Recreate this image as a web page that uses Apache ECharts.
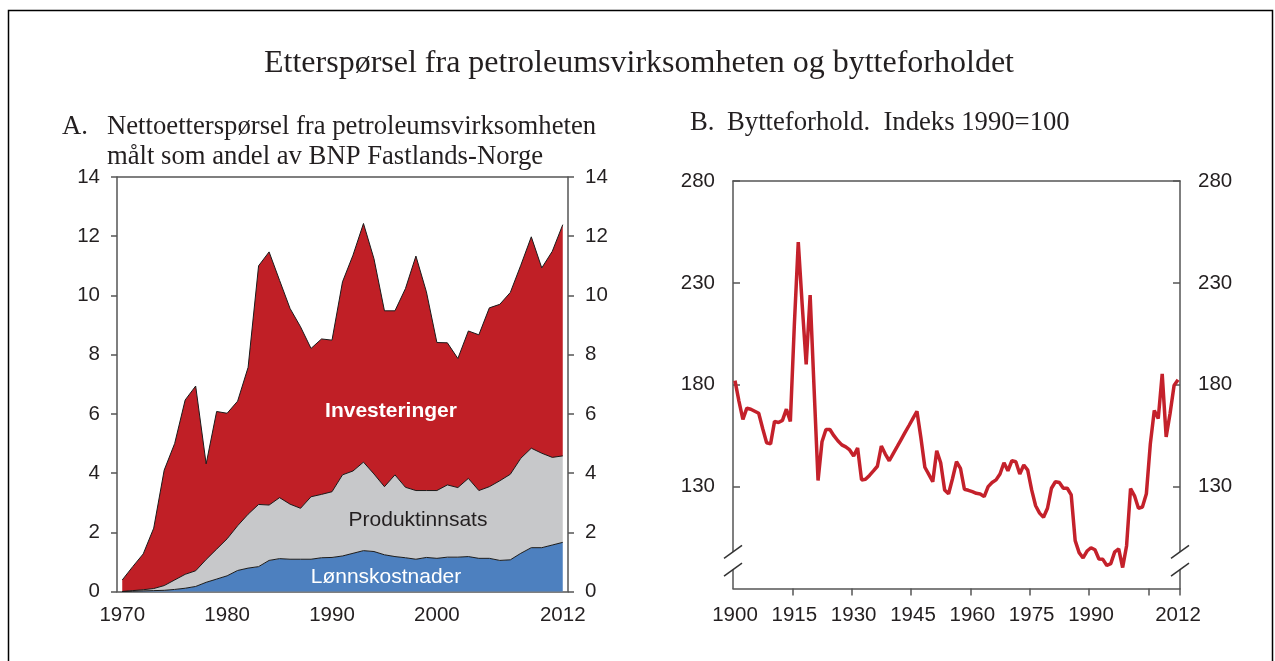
<!DOCTYPE html>
<html>
<head>
<meta charset="utf-8">
<script src="https://cdn.jsdelivr.net/npm/echarts@6/dist/echarts.min.js"></script>
<style>
  html, body { margin: 0; padding: 0; background: #fff; }
  #chart { width: 1275px; height: 661px; }
</style>
</head>
<body>
<div id="chart"></div>
<script>
// ---- data: panel A (share of mainland GDP, per cent), 1970-2012 ----
const yearsA = [];
for (let y = 1970; y <= 2012; y++) yearsA.push(String(y));

const lonnskostnader = [
  0.00, 0.01, 0.02, 0.03, 0.04, 0.07, 0.11, 0.17, 0.31, 0.42,
  0.53, 0.71, 0.79, 0.84, 1.05, 1.11, 1.09, 1.09, 1.09, 1.14,
  1.15, 1.20, 1.29, 1.38, 1.35, 1.24, 1.18, 1.14, 1.09, 1.15,
  1.12, 1.16, 1.16, 1.18, 1.12, 1.12, 1.05, 1.07, 1.29, 1.48,
  1.48, 1.57, 1.66
];
const produktinnsats = [
  0.00, 0.02, 0.04, 0.07, 0.16, 0.32, 0.47, 0.53, 0.77, 1.01,
  1.25, 1.51, 1.82, 2.10, 1.87, 2.06, 1.86, 1.72, 2.11, 2.14,
  2.22, 2.74, 2.78, 2.99, 2.62, 2.30, 2.76, 2.38, 2.32, 2.26,
  2.29, 2.44, 2.35, 2.64, 2.29, 2.42, 2.69, 2.89, 3.21, 3.36,
  3.19, 2.96, 2.92
];
const investeringer = [
  0.39, 0.81, 1.21, 2.04, 3.90, 4.61, 5.89, 6.24, 3.23, 4.65,
  4.24, 4.21, 4.96, 8.06, 8.55, 7.34, 6.61, 6.13, 5.01, 5.25,
  5.12, 6.52, 7.29, 8.06, 7.27, 5.94, 5.54, 6.71, 7.92, 6.71,
  5.00, 4.80, 4.36, 4.98, 5.26, 6.04, 5.96, 6.14, 6.52, 7.14,
  6.26, 6.96, 7.81
];
const labelYearsA = ['1970', '1980', '1990', '2000', '2012'];

// ---- data: panel B (terms of trade, index 1990=100), 1900-2012 ----
const yearsB = [];
for (let y = 1900; y <= 2012; y++) yearsB.push(String(y));

const bytteforhold = [
  182, 172, 163, 168.5, 168, 167, 166, 158.5, 151.5, 151,
  162, 161.5, 162.5, 168, 162, 209, 250, 219, 190, 224,
  178, 133, 152, 158, 158, 155, 152.5, 150.5, 149.5, 148,
  145, 149, 133.3, 133.6, 135.5, 137.7, 140, 149.9, 146, 142.7,
  146.2, 149.6, 153.1, 156.6, 160, 163.5, 167, 154, 139.5, 136,
  132.4, 147.6, 141.7, 128.4, 126.5, 134, 142.2, 139, 128.7, 128.2,
  127.5, 126.7, 126.4, 125.1, 130, 132, 133.3, 136.2, 141.7, 137.8,
  142.7, 142.2, 136.2, 140.6, 138.1, 128.4, 120.6, 117, 115, 119.4,
  129.2, 132.4, 132, 129.2, 129.2, 125.9, 103.5, 97.6, 95, 98.4,
  100, 99, 94.5, 94.3, 91.3, 92.2, 98, 99.4, 90.3, 101,
  129, 125.5, 119.4, 120, 126.5, 151, 167.4, 163.4, 185.3, 154.4,
  166, 179.6, 182.4
];
const labelYearsB = ['1900', '1915', '1930', '1945', '1960', '1975', '1990', '2012'];
const tickYearsB = ['1915', '1930', '1945', '1960', '1975', '1990', '2005'];
const ticksB = [130, 180, 230, 280];

// ---- layout ----
const gridA = { left: 117, top: 177, width: 451, height: 414.5 };
const gridB = { left: 733, top: 181, width: 447, height: 407.5 };
const breakValues = [98, 89.3];

const sans = '"Liberation Sans", Arial, sans-serif';
const serif = '"Liberation Serif", "Times New Roman", serif';
const axisColor = '#555';
const textColor = '#231f20';

const chart = echarts.init(document.getElementById('chart'));

const axisLine = { show: true, onZero: false, lineStyle: { color: axisColor, width: 1.5 } };
const tickFont = { fontFamily: sans, fontSize: 20.5, color: textColor };

function areaSeries(name, data, color) {
  return {
    name: name,
    type: 'line',
    stack: 'total',
    xAxisIndex: 0,
    yAxisIndex: 0,
    data: data,
    symbol: 'none',
    lineStyle: { color: '#1a1a1a', width: 1 },
    areaStyle: { color: color, opacity: 1 },
    animation: false
  };
}

chart.setOption({
  animation: false,
  grid: [gridA, gridB],
  xAxis: [
    {
      type: 'category', gridIndex: 0, data: yearsA, boundaryGap: true,
      axisLine: axisLine, axisTick: { show: false },
      axisLabel: Object.assign({ interval: (i, v) => labelYearsA.includes(v), margin: 13 }, tickFont)
    },
    {
      type: 'category', gridIndex: 1, data: yearsB, boundaryGap: true,
      axisLine: axisLine,
      axisTick: { show: true, inside: false, length: 7, lineStyle: { color: axisColor, width: 1.5 },
        interval: (i, v) => tickYearsB.includes(v) },
      axisLabel: Object.assign({ interval: (i, v) => labelYearsB.includes(v), margin: 16 }, tickFont)
    },
    {
      type: 'category', gridIndex: 1, data: yearsB, position: 'top',
      axisLine: axisLine, axisTick: { show: false }, axisLabel: { show: false }
    }
  ],
  yAxis: [
    {
      type: 'value', gridIndex: 0, position: 'left', min: 0, max: 14, interval: 2,
      axisLine: axisLine, splitLine: { show: false },
      axisTick: { show: true, inside: false, length: 6, lineStyle: { color: axisColor, width: 1.5 } },
      axisLabel: Object.assign({ margin: 17 }, tickFont)
    },
    {
      type: 'value', gridIndex: 0, position: 'right', min: 0, max: 14, interval: 2,
      axisLine: axisLine, splitLine: { show: false },
      axisTick: { show: true, inside: false, length: 6, lineStyle: { color: axisColor, width: 1.5 } },
      axisLabel: Object.assign({ margin: 17 }, tickFont)
    },
    {
      type: 'value', gridIndex: 1, position: 'left', min: 80, max: 280,
      axisLine: axisLine, splitLine: { show: false },
      axisTick: { show: true, inside: true, length: 7, customValues: ticksB, lineStyle: { color: axisColor, width: 1.5 } },
      axisLabel: Object.assign({ margin: 18, customValues: ticksB }, tickFont)
    },
    {
      type: 'value', gridIndex: 1, position: 'right', min: 80, max: 280,
      axisLine: axisLine, splitLine: { show: false },
      axisTick: { show: true, inside: true, length: 7, customValues: ticksB, lineStyle: { color: axisColor, width: 1.5 } },
      axisLabel: Object.assign({ margin: 18, customValues: ticksB }, tickFont)
    }
  ],
  series: [
    areaSeries('Lønnskostnader', lonnskostnader, '#4d80bf'),
    areaSeries('Produktinnsats', produktinnsats, '#c7c8ca'),
    areaSeries('Investeringer', investeringer, '#c01f26'),
    {
      name: 'Bytteforhold',
      type: 'line',
      xAxisIndex: 1,
      yAxisIndex: 2,
      data: bytteforhold,
      symbol: 'none',
      lineStyle: { color: '#c4212b', width: 3.5 },
      animation: false
    }
  ]
});

// texts, frame, top border of panel A and axis-break marks
function text(x, y, str, font, fill, align) {
  return {
    type: 'text', x: x, y: y, z: 50,
    style: { text: str, font: font, fill: fill || textColor, align: align || 'left', verticalAlign: 'middle' }
  };
}

const topA = chart.convertToPixel({ yAxisIndex: 0 }, 14);

const graphics = [
  { type: 'rect', z: 0, shape: { x: 8.5, y: 10.5, width: 1264, height: 700 },
    style: { fill: 'none', stroke: '#000', lineWidth: 1.5 } },
  { type: 'line', z: 60,
    shape: { x1: gridA.left, y1: topA, x2: gridA.left + gridA.width, y2: topA },
    style: { stroke: axisColor, lineWidth: 1.5 } },
  text(639, 64, 'Etterspørsel fra petroleumsvirksomheten og bytteforholdet', '32px ' + serif, textColor, 'center'),
  text(62, 127, 'A.', '26.7px ' + serif),
  text(107, 127, 'Nettoetterspørsel fra petroleumsvirksomheten', '26.7px ' + serif),
  text(107, 157, 'målt som andel av BNP Fastlands-Norge', '26.7px ' + serif),
  text(690, 123, 'B.', '26.7px ' + serif),
  text(727, 123, 'Bytteforhold.  Indeks 1990=100', '26.7px ' + serif),
  text(391, 411, 'Investeringer', 'bold 21px ' + sans, '#fff', 'center'),
  text(418, 520, 'Produktinnsats', '21px ' + sans, '#231f20', 'center'),
  text(386, 577, 'Lønnskostnader', '21px ' + sans, '#fff', 'center')
];

const yBreak = breakValues.map(v => chart.convertToPixel({ yAxisIndex: 2 }, v));
[gridB.left, gridB.left + gridB.width].forEach(ax => {
  graphics.push({
    type: 'rect', z: 100,
    shape: { x: ax - 3, y: yBreak[0], width: 6, height: yBreak[1] - yBreak[0] },
    style: { fill: '#fff' }
  });
  yBreak.forEach(y => {
    graphics.push({
      type: 'line', z: 101,
      shape: { x1: ax - 9, y1: y + 6.5, x2: ax + 9, y2: y - 6.5 },
      style: { stroke: '#333', lineWidth: 1.5 }
    });
  });
});

chart.setOption({ graphic: graphics });
</script>
</body>
</html>
